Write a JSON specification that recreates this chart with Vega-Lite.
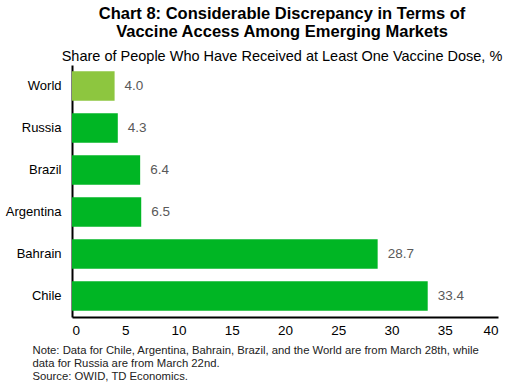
{
  "$schema": "https://vega.github.io/schema/vega-lite/v6.json",
  "width": 426,
  "height": 252,
  "autosize": {"type": "none"},
  "padding": {"left": 72, "top": 65, "right": 22, "bottom": 69},
  "background": "white",
  "config": {"view": {"stroke": null}, "font": "Liberation Sans"},
  "title": {
    "text": ["Chart 8: Considerable Discrepancy in Terms of", "Vaccine Access Among Emerging Markets"],
    "subtitle": "Share of People Who Have Received at Least One Vaccine Dose, %",
    "anchor": "middle",
    "fontSize": 16.5,
    "fontWeight": "bold",
    "color": "black",
    "lineHeight": 18,
    "subtitleFontSize": 14.5,
    "subtitleColor": "black",
    "subtitlePadding": 9,
    "offset": 2,
    "dx": -3
  },
  "data": {
    "values": [
      {"country": "World", "value": 4.0, "group": "world"},
      {"country": "Russia", "value": 4.3, "group": "em"},
      {"country": "Brazil", "value": 6.4, "group": "em"},
      {"country": "Argentina", "value": 6.5, "group": "em"},
      {"country": "Bahrain", "value": 28.7, "group": "em"},
      {"country": "Chile", "value": 33.4, "group": "em"}
    ]
  },
  "encoding": {
    "y": {
      "field": "country",
      "type": "nominal",
      "sort": null,
      "scale": {"paddingInner": 0.3, "paddingOuter": 0.15},
      "axis": {
        "title": null,
        "ticks": false,
        "domainColor": "black",
        "domainWidth": 2,
        "labelFontSize": 13,
        "labelColor": "black",
        "labelPadding": 11
      }
    },
    "x": {
      "field": "value",
      "type": "quantitative",
      "scale": {"domain": [0, 40]},
      "axis": {
        "values": [0, 5, 10, 15, 20, 25, 30, 35, 40],
        "grid": false,
        "ticks": false,
        "domainColor": "black",
        "domainWidth": 2,
        "labelFontSize": 13.5,
        "labelColor": "black",
        "labelPadding": 6,
        "title": ["Note: Data for Chile, Argentina, Bahrain, Brazil, and the World are from March 28th, while", "data for Russia are from March 22nd.", "Source: OWID, TD Economics."],
        "titleFontSize": 11.3,
        "titleFontWeight": "normal",
        "titleColor": "#222222",
        "titleAnchor": "start",
        "titleAlign": "left",
        "titleX": -40,
        "titlePadding": 8,
        "titleLineHeight": 13
      }
    }
  },
  "layer": [
    {
      "mark": {"type": "bar"},
      "encoding": {
        "color": {
          "field": "group",
          "type": "nominal",
          "scale": {"domain": ["world", "em"], "range": ["#8DC63F", "#00B624"]},
          "legend": null
        }
      }
    },
    {
      "mark": {"type": "text", "align": "left", "dx": 10, "fontSize": 13.5, "color": "#595959"},
      "encoding": {
        "text": {"field": "value", "type": "quantitative", "format": ".1f"}
      }
    }
  ]
}
